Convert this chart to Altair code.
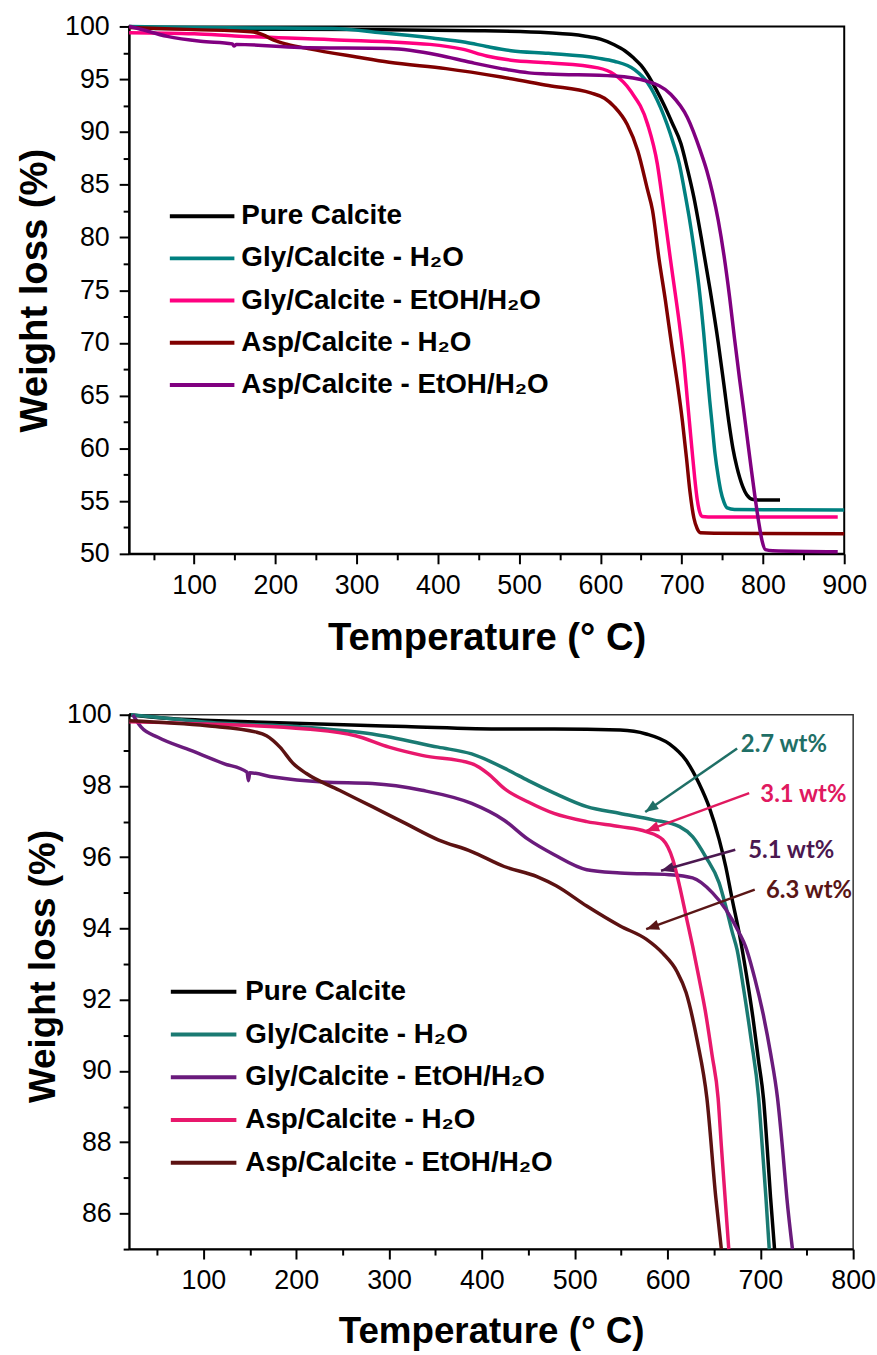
import math
import altair as alt
import pandas as pd

FONT = "Liberation Sans"
ANN_FONT = "Lato"

# ---------------- upper panel: TGA up to 900 °C ----------------
top_series = ["Pure Calcite", "Gly/Calcite - H₂O", "Gly/Calcite - EtOH/H₂O",
              "Asp/Calcite - H₂O", "Asp/Calcite - EtOH/H₂O"]
top_colors = ["#000000", "#008080", "#ff0080", "#800000", "#800080"]

top_pure_t = [20, 60, 150, 300, 450, 536, 580, 600, 617, 630, 641, 650, 658, 668, 678, 688,
              699, 707, 715, 724, 735, 745, 752, 758, 763, 768, 775, 780, 788, 800, 821]
top_pure_w = [100, 99.8, 99.75, 99.7, 99.6, 99.4, 99.1, 98.8, 98.27, 97.7, 97.0, 96.3, 95.45,
              94.1, 92.6, 90.9, 88.9, 86.5, 83.8, 80, 75, 70, 66, 62.5, 60, 58.2, 56.4, 55.6,
              55.15, 55.1, 55.1]

top_gly_h2o_t = [20, 100, 200, 270, 330, 393, 434, 460, 490, 536, 597, 617, 642, 658, 674, 690,
                 697, 703, 709, 715, 721, 727, 731, 734.5, 737.4, 741, 745, 748, 752, 756, 765,
                 820, 900]
top_gly_h2o_w = [100, 99.9, 99.85, 99.8, 99.4, 98.9, 98.5, 98.1, 97.7, 97.45, 97.0, 96.7, 95.9,
                 94.66, 92.3, 88.86, 87, 84.6, 82, 79, 75.5, 71, 67.5, 64.5, 62.3, 59.5, 57.3,
                 56, 54.9, 54.35, 54.2, 54.17, 54.15]

top_gly_etoh_t = [20, 100, 150, 270, 390, 430, 460, 490, 536, 597, 617, 637, 658, 670, 678, 686,
                  692, 698, 703, 707, 710, 713, 716, 719, 722, 725, 740, 892]
top_gly_etoh_w = [99.4, 99.3, 99.1, 98.75, 98.3, 97.85, 97.2, 96.8, 96.55, 96.07, 95.45, 93.9,
                  90.74, 86.97, 82.6, 78, 74.7, 71.3, 68, 64.6, 62.1, 59.6, 57.2, 55.2, 54.0,
                  53.55, 53.5, 53.5]

top_asp_h2o_t = [20, 100, 170, 185, 198, 215, 240, 300, 340, 410, 478, 536, 588, 605, 617, 633,
                 646, 658, 664, 672, 680, 688, 695, 701, 706, 710, 715, 719, 723, 740, 900]
top_asp_h2o_w = [99.9, 99.7, 99.5, 99.2, 98.7, 98.3, 97.9, 97.1, 96.6, 96.0, 95.2, 94.4, 93.7,
                 93.2, 92.4, 90.7, 88.2, 84.5, 82.6, 78, 74, 69.6, 66, 62.5, 59, 56, 53.4,
                 52.4, 52.0, 51.95, 51.9]

top_asp_etoh_t = [20, 26, 67, 108, 147, 149, 152, 230, 340, 400, 440, 478, 512, 536, 617, 658,
                  686.5, 707, 723, 731, 738, 745, 752, 759, 765, 771, 776, 780, 785, 790, 795,
                  799, 803, 812, 892]
top_asp_etoh_w = [100, 99.9, 99.06, 98.6, 98.35, 98.15, 98.3, 98.0, 97.9, 97.3, 96.6, 96.0,
                  95.6, 95.5, 95.3, 94.8, 93.57, 91.37, 88.2, 86.3, 84.2, 81.6, 78.3, 74.3,
                  70.4, 66.7, 63.8, 61.4, 58.4, 55.5, 52.9, 51.2, 50.4, 50.3, 50.2]

top_curves = [(top_pure_t, top_pure_w), (top_gly_h2o_t, top_gly_h2o_w),
              (top_gly_etoh_t, top_gly_etoh_w), (top_asp_h2o_t, top_asp_h2o_w),
              (top_asp_etoh_t, top_asp_etoh_w)]

# ---------------- lower panel: zoom on 85–100 % ----------------
bot_series = ["Pure Calcite", "Gly/Calcite - H₂O", "Gly/Calcite - EtOH/H₂O",
              "Asp/Calcite - H₂O", "Asp/Calcite - EtOH/H₂O"]
bot_colors = ["#000000", "#1a7a72", "#6a1b7c", "#e8186c", "#5c1212"]

bot_pure_t = [20, 60, 140, 318, 424, 478, 549, 577, 602, 620, 634, 645, 655.6, 662.7, 669.8,
              677, 685, 692, 698, 703.5, 707.5, 711, 715.3]
bot_pure_w = [100, 99.9, 99.81, 99.67, 99.6, 99.6, 99.57, 99.46, 99.18, 98.72, 98.07, 97.4,
              96.5, 95.74, 94.8, 93.9, 92.7, 91.5, 90.3, 89.2, 87.8, 86.45, 85.0]

bot_gly_h2o_t = [22, 60, 104, 211, 282, 353, 389, 428, 450, 478, 513, 549, 584.5, 613, 627, 641,
                 655.6, 662.7, 669.8, 675, 682, 690, 698.2, 702, 706, 709.6]
bot_gly_h2o_w = [100, 99.9, 99.79, 99.65, 99.46, 99.09, 98.9, 98.45, 98.15, 97.8, 97.42, 97.23,
                 97.05, 96.86, 96.58, 96.02, 95.28, 94.63, 93.89, 93.4, 92.3, 90.9, 89.24,
                 87.9, 86.45, 85.0]

bot_gly_etoh_t = [24, 33, 51, 86.5, 122, 147, 148.5, 150, 175.5, 228.8, 282, 335.5, 389, 424,
                  450, 478, 513, 549, 602, 627, 648.5, 662.7, 677, 684, 694, 703, 711, 718.5,
                  724, 728.5, 734.6]
bot_gly_etoh_w = [100, 99.65, 99.37, 99.0, 98.63, 98.39, 98.15, 98.37, 98.25, 98.11, 98.07,
                  97.88, 97.51, 97.04, 96.5, 96.07, 95.65, 95.56, 95.51, 95.42, 95.0, 94.54,
                  93.89, 93.5, 92.6, 91.6, 90.5, 89.24, 87.8, 86.45, 85.0]

bot_asp_h2o_t = [20, 104, 211, 264, 300, 335.5, 389, 406.6, 424, 450, 477.7, 513, 549, 577, 595,
                 605.8, 613, 620, 627, 634, 640.6, 648, 654.5, 658, 662, 666]
bot_asp_h2o_w = [99.8, 99.74, 99.6, 99.41, 99.09, 98.86, 98.63, 98.35, 97.93, 97.55, 97.23,
                 97.0, 96.86, 96.72, 96.49, 95.93, 95.19, 94.35, 93.51, 92.6, 91.7, 90.45,
                 89.24, 87.9, 86.45, 85.0]

bot_asp_etoh_t = [20, 104, 157.6, 168, 182.5, 196.8, 211, 246.5, 282, 317.7, 353, 389, 424, 460,
                  480, 513, 549, 577, 595, 610, 620, 632, 642.4, 652, 658]
bot_asp_etoh_w = [99.83, 99.69, 99.51, 99.41, 99.09, 98.63, 98.35, 97.88, 97.42, 96.95, 96.49,
                  96.16, 95.74, 95.45, 95.2, 94.63, 94.07, 93.7, 93.3, 92.8, 92.2, 90.85, 89.24,
                  86.45, 85.0]

bot_curves = [(bot_pure_t, bot_pure_w), (bot_gly_h2o_t, bot_gly_h2o_w),
              (bot_gly_etoh_t, bot_gly_etoh_w), (bot_asp_h2o_t, bot_asp_h2o_w),
              (bot_asp_etoh_t, bot_asp_etoh_w)]

# mass-loss call-outs on the lower panel
ann_text = ["2.7 wt%", "3.1 wt%", "5.1 wt%", "6.3 wt%"]
ann_colors = ["#1f6f66", "#e0195f", "#4b1850", "#5a1616"]
ann_text_t = [679, 700, 687, 706]
ann_text_w = [99.14, 97.74, 96.18, 95.04]
ann_tail_t = [675, 688, 673, 694]
ann_tail_w = [99.05, 97.80, 96.21, 95.09]
ann_head_t = [576, 577, 593, 577]
ann_head_w = [97.27, 96.74, 95.62, 93.98]

# ---------------- geometry ----------------
TOP_W, TOP_H = 720, 531
BOT_W, BOT_H = 729, 538
TOP_X = (20, 900)
TOP_Y = (50, 100)
BOT_X = (20, 800)
BOT_Y = (85, 100)


def curves_frame(names, colors, curves):
    rows = []
    for name, col, (ts, ws) in zip(names, colors, curves):
        for t, w in zip(ts, ws):
            rows.append({"series": name, "col": col, "T": t, "W": w})
    return pd.DataFrame(rows)


def minor_ticks(test):
    return {"condition": {"test": test, "value": 10}, "value": 6}


def panel(names, colors, curves, xdom, ydom, w, h, xvals, xmajor, yvals, ymajor,
          title_size, x_title_y, y_title_x, y_title_y, lab_pad_y, legend_rows, legend_x,
          text_x, left_extent, view_stroke, view_width, extra=None):
    df = curves_frame(names, colors, curves)
    xs = alt.Scale(domain=list(xdom), nice=False, zero=False)
    ys = alt.Scale(domain=list(ydom), nice=False, zero=False)
    y_axis_kw = dict(
        values=yvals,
        labelExpr=f"datum.value % {ymajor} === 0 ? datum.label : ''",
        tickSize=minor_ticks(f"datum.value % {ymajor} === 0"),
        labelPadding=lab_pad_y, labelFlush=False, labelOverlap=False,
        title="Weight loss (%)", titleFontSize=title_size, titleX=y_title_x,
        titleBaseline="top", titleAlign="center",
    )
    if y_title_y is not None:
        y_axis_kw["titleY"] = y_title_y
    lines = alt.Chart(df).mark_line(strokeWidth=3.5, interpolate="monotone").encode(
        x=alt.X("T:Q", scale=xs, axis=alt.Axis(
            values=xvals,
            labelExpr=f"datum.value % {xmajor} === 0 ? datum.label : ''",
            tickSize=minor_ticks(f"datum.value % {xmajor} === 0"),
            labelPadding=9, labelFlush=False, labelOverlap=False,
            title="Temperature (° C)", titleFontSize=title_size,
            titleY=x_title_y, titleBaseline="alphabetic")),
        y=alt.Y("W:Q", scale=ys, axis=alt.Axis(**y_axis_kw)),
        color=alt.Color("col:N", scale=None),
        detail="series:N",
    )
    # legend: one row per series, rows spread evenly over a pixel band
    leg_df = pd.DataFrame({"series": names, "col": colors, "row": list(range(len(names)))})
    leg_y = alt.Y("row:Q", axis=None,
                  scale=alt.Scale(domain=[0, len(names) - 1], range=list(legend_rows),
                                  nice=False, zero=False))
    leg_lines = alt.Chart(leg_df).mark_rule(strokeWidth=4).encode(
        x=alt.value(legend_x[0]), x2=alt.value(legend_x[1]), y=leg_y,
        color=alt.Color("col:N", scale=None),
    )
    leg_text = alt.Chart(leg_df).mark_text(
        align="left", baseline="middle", font=FONT, fontSize=28, fontWeight="bold",
        color="#000000",
    ).encode(x=alt.value(text_x), y=leg_y, text="series:N")
    # white hairline in the left margin that fixes how far the panel reaches left
    margin = alt.Chart(leg_df.head(1)).mark_rule(color="#ffffff", strokeWidth=1).encode(
        x=alt.value(-left_extent), x2=alt.value(-left_extent + 1),
        y=alt.value(h / 2), y2=alt.value(h / 2 + 1),
    )
    layers = [lines, leg_lines, leg_text, margin]
    if extra is not None:
        layers += extra(xs, ys)
    return alt.layer(*layers).resolve_scale(y="independent").properties(
        width=w, height=h,
        view=alt.ViewBackground(stroke=view_stroke, strokeWidth=view_width, fill="white"),
    )


def callouts(xs, ys):
    sx = BOT_W / (BOT_X[1] - BOT_X[0])
    sy = BOT_H / (BOT_Y[1] - BOT_Y[0])
    angles = [
        (math.degrees(math.atan2((ht - tt) * sx, (hw - tw) * sy)) + 360) % 360
        for tt, tw, ht, hw in zip(ann_tail_t, ann_tail_w, ann_head_t, ann_head_w)
    ]
    adf = pd.DataFrame({
        "label": ann_text, "col": ann_colors,
        "tx": ann_text_t, "tw": ann_text_w,
        "t0": ann_tail_t, "w0": ann_tail_w,
        "t1": ann_head_t, "w1": ann_head_w,
        "ang": angles,
    })
    shaft = alt.Chart(adf).mark_rule(strokeWidth=2.5).encode(
        x=alt.X("t0:Q", scale=xs), x2="t1:Q",
        y=alt.Y("w0:Q", scale=ys, axis=None), y2="w1:Q",
        color=alt.Color("col:N", scale=None),
    )
    head = alt.Chart(adf).mark_point(
        shape="M0,0L0.8,2L-0.8,2Z", filled=True, size=169, opacity=1,
    ).encode(
        x=alt.X("t1:Q", scale=xs), y=alt.Y("w1:Q", scale=ys, axis=None),
        angle=alt.Angle("ang:Q", scale=None),
        color=alt.Color("col:N", scale=None),
    )
    label = alt.Chart(adf).mark_text(
        align="left", baseline="middle", font=ANN_FONT, fontSize=24, fontWeight="bold",
    ).encode(
        x=alt.X("tx:Q", scale=xs), y=alt.Y("tw:Q", scale=ys, axis=None),
        text="label:N", color=alt.Color("col:N", scale=None),
    )
    return [shaft, head, label]


top = panel(
    top_series, top_colors, top_curves, TOP_X, TOP_Y, TOP_W, TOP_H,
    xvals=list(range(50, 901, 50)), xmajor=100,
    yvals=[50 + 2.5 * i for i in range(21)], ymajor=5,
    title_size=38.5, x_title_y=96, y_title_x=-113, y_title_y=None, lab_pad_y=10,
    legend_rows=(191, 361), legend_x=(41, 106), text_x=113, left_extent=128,
    view_stroke="#000000", view_width=2,
)

bottom = panel(
    bot_series, bot_colors, bot_curves, BOT_X, BOT_Y, BOT_W, BOT_H,
    xvals=list(range(50, 801, 50)), xmajor=100,
    yvals=list(range(85, 101)), ymajor=2,
    title_size=37, x_title_y=94, y_title_x=-104, y_title_y=253, lab_pad_y=8,
    legend_rows=(279, 451), legend_x=(42, 108), text_x=117, left_extent=121,
    view_stroke="#333333", view_width=1.5, extra=callouts,
)

# each panel sits in its own row group, so its left margin is kept as set above
chart = alt.concat(alt.hconcat(top), alt.hconcat(bottom), columns=1, spacing=42,
                   align="none").properties(
    padding={"left": 0, "top": 7, "right": 0, "bottom": 0},
    background="white",
).configure_axis(
    grid=False,
    domainColor="#000000", domainWidth=2,
    tickColor="#000000", tickWidth=2,
    labelFont=FONT, labelFontSize=27, labelColor="#000000",
    titleFont=FONT, titleFontWeight="bold", titleColor="#000000",
)

chart.save("out.html", embed_options={"renderer": "svg", "actions": False})
